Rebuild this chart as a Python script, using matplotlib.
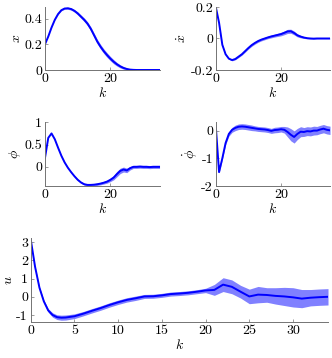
import matplotlib
matplotlib.use('Agg')
import matplotlib.pyplot as plt
import numpy as np

plt.rcParams['font.family'] = 'serif'
plt.rcParams['font.serif'] = ['cmr10', 'DejaVu Serif']
plt.rcParams['mathtext.fontset'] = 'cm'
plt.rcParams['axes.unicode_minus'] = False
plt.rcParams['font.size'] = 10

# states, k = 0..35
k = list(range(36))
x_mean = [0.20, 0.26, 0.33, 0.39, 0.435, 0.465, 0.478, 0.48, 0.474, 0.46, 0.44, 0.415,
          0.39, 0.36, 0.32, 0.27, 0.22, 0.18, 0.145, 0.115, 0.088, 0.064, 0.044, 0.028,
          0.016, 0.008, 0.003, 0.001, 0, 0, 0, 0, 0, 0, 0, 0]
x_sd = [0, 0, 0.001, 0.002, 0.004, 0.005, 0.006, 0.008, 0.009, 0.010, 0.012, 0.013, 0.014,
        0.015, 0.016, 0.017, 0.018, 0.018, 0.018, 0.018, 0.017, 0.016, 0.014, 0.012,
        0.010, 0.007, 0.005, 0.003, 0.001, 0, 0, 0, 0, 0, 0, 0]

xd_mean = [0.20, 0.10, -0.04, -0.10, -0.128, -0.137, -0.13, -0.115, -0.10, -0.08, -0.06,
           -0.042, -0.028, -0.016, -0.007, 0.0, 0.007, 0.013, 0.018, 0.023, 0.028, 0.036,
           0.045, 0.046, 0.035, 0.02, 0.012, 0.006, 0.002, 0.0, -0.001, 0, 0, 0, 0, 0]
xd_sd = [0, 0.001, 0.002, 0.003, 0.004, 0.005, 0.005, 0.006, 0.006, 0.007, 0.007, 0.008,
         0.008, 0.008, 0.008, 0.008, 0.008, 0.009, 0.009, 0.010, 0.011, 0.012, 0.013,
         0.013, 0.012, 0.010, 0.008, 0.006, 0.004, 0.003, 0.003, 0.002, 0.002, 0.002,
         0.002, 0.002]

phi_mean = [0.20, 0.65, 0.75, 0.62, 0.43, 0.25, 0.10, -0.02, -0.12, -0.21, -0.29, -0.35,
            -0.39, -0.405, -0.405, -0.40, -0.39, -0.375, -0.355, -0.33, -0.29, -0.24,
            -0.16, -0.09, -0.06, -0.08, -0.03, 0.0, 0.0, 0.005, 0.0, 0.0, -0.005, 0.0,
            0.0, 0.0]
phi_sd = [0, 0, 0.002, 0.004, 0.006, 0.008, 0.01, 0.012, 0.015, 0.018, 0.02, 0.02, 0.02,
          0.02, 0.022, 0.024, 0.026, 0.028, 0.03, 0.035, 0.04, 0.05, 0.06, 0.06, 0.055,
          0.05, 0.04, 0.035, 0.035, 0.035, 0.035, 0.035, 0.035, 0.035, 0.035, 0.035]

phid_mean = [0.15, -1.50, -1.0, -0.45, -0.12, 0.03, 0.10, 0.14, 0.15, 0.14, 0.12, 0.10,
             0.08, 0.06, 0.05, 0.04, 0.02, -0.01, 0.02, 0.03, 0.05, 0.03, -0.05, -0.15,
             -0.23, -0.12, -0.04, -0.05, -0.02, -0.03, 0.0, 0.0, 0.04, 0.07, 0.03, 0.01]
phid_sd = [0, 0.02, 0.04, 0.06, 0.08, 0.09, 0.1, 0.1, 0.1, 0.1, 0.1, 0.1, 0.09, 0.09,
           0.09, 0.09, 0.09, 0.09, 0.1, 0.1, 0.1, 0.12, 0.18, 0.22, 0.22, 0.2, 0.18, 0.16,
           0.16, 0.16, 0.16, 0.15, 0.15, 0.15, 0.15, 0.15]

# input, k = 0..34
ku = [0, 0.5, 1, 1.5, 2, 2.5, 3, 3.5, 4, 5, 6, 7, 8, 9, 10, 11, 12, 13, 14, 15, 16, 17,
      18, 19, 20, 21, 22, 23, 24, 25, 26, 27, 28, 29, 30, 31, 32, 33, 34]
u_mean = [3.16, 1.65, 0.50, -0.25, -0.75, -1.00, -1.12, -1.15, -1.14, -1.07, -0.93, -0.77,
          -0.62, -0.45, -0.30, -0.17, -0.08, 0.02, 0.03, 0.08, 0.15, 0.18, 0.22, 0.28, 0.35,
          0.38, 0.67, 0.55, 0.28, 0.02, 0.12, 0.10, 0.05, 0.02, -0.03, -0.10, -0.05, -0.02,
          0.0]
u_sd = [0, 0.02, 0.05, 0.08, 0.10, 0.12, 0.13, 0.14, 0.14, 0.13, 0.12, 0.12, 0.12, 0.12,
        0.12, 0.12, 0.12, 0.11, 0.11, 0.11, 0.11, 0.11, 0.11, 0.11, 0.12, 0.30, 0.38, 0.38,
        0.35, 0.40, 0.45, 0.40, 0.45, 0.50, 0.53, 0.50, 0.45, 0.45, 0.45]

x_ticks, x_ticklabels = [0, 0.2, 0.4], ['0', '0.2', '0.4']
xd_ticks, xd_ticklabels = [-0.2, 0, 0.2], ['-0.2', '0', '0.2']
phi_ticks, phi_ticklabels = [0, 0.5, 1], ['0', '0.5', '1']
phid_ticks, phid_ticklabels = [-2, -1, 0], ['-2', '-1', '0']
u_ticks, u_ticklabels = [-1, 0, 1, 2, 3], ['-1', '0', '1', '2', '3']
k_ticks_top = [0, 20]
k_ticks_u = [0, 5, 10, 15, 20, 25, 30]


def band_plot(ax, kk, m, s, ylabel, yticks, yticklabels, ylim, xlim, xticks):
    kk = np.array(kk)
    m = np.array(m)
    s = np.array(s)
    ax.fill_between(kk, m - s, m + s, color='#8080ff', lw=0)
    ax.plot(kk, m, color='#0000ff', lw=1.4)
    ax.set_xlim(xlim)
    ax.set_ylim(ylim)
    ax.set_xticks(xticks, [str(t) for t in xticks])
    ax.set_yticks(yticks, yticklabels)
    ax.set_xlabel('$k$', labelpad=1)
    ax.set_ylabel(ylabel, labelpad=1)
    for sp in ['top', 'right']:
        ax.spines[sp].set_visible(False)
    for sp in ['left', 'bottom']:
        ax.spines[sp].set_color('0.45')
        ax.spines[sp].set_linewidth(0.7)
    ax.tick_params(direction='in', length=2, width=0.5, color='0.45', pad=2)


fig = plt.figure(figsize=(3.32, 3.58), dpi=100)
ax1 = fig.add_axes([0.1355, 0.8045, 0.345, 0.176])
ax2 = fig.add_axes([0.65, 0.8045, 0.344, 0.176])
ax3 = fig.add_axes([0.1355, 0.4804, 0.345, 0.178])
ax4 = fig.add_axes([0.65, 0.4804, 0.344, 0.178])
ax5 = fig.add_axes([0.0925, 0.1014, 0.8955, 0.233])

band_plot(ax1, k, x_mean, x_sd, '$x$', x_ticks, x_ticklabels, (0, 0.49), (0, 35), k_ticks_top)
band_plot(ax2, k, xd_mean, xd_sd, r'$\dot{x}$', xd_ticks, xd_ticklabels, (-0.2, 0.2), (0, 35), k_ticks_top)
band_plot(ax3, k, phi_mean, phi_sd, r'$\phi$', phi_ticks, phi_ticklabels, (-0.43, 1), (0, 35), k_ticks_top)
band_plot(ax4, k, phid_mean, phid_sd, r'$\dot{\phi}$', phid_ticks, phid_ticklabels, (-2, 0.3), (0, 35), k_ticks_top)
band_plot(ax5, ku, u_mean, u_sd, '$u$', u_ticks, u_ticklabels, (-1.37, 3.22), (0, 34), k_ticks_u)

fig.savefig('out.png', dpi=100)
